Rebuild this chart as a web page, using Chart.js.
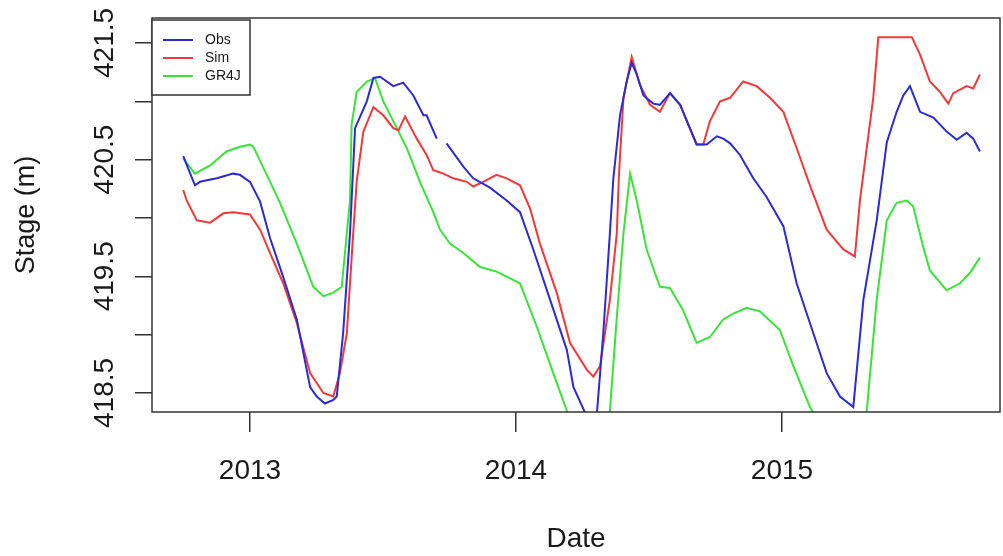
<!DOCTYPE html>
<html>
<head>
<meta charset="utf-8">
<script src="https://cdn.jsdelivr.net/npm/chart.js@4/dist/chart.umd.min.js"></script>
<style>
  body { margin: 0; background: #fff; }
  #grafica { display: block; }
</style>
</head>
<body>
<canvas id="grafica" width="1003" height="556"></canvas>
<script>
// fechas en años decimales, cota en m
const obsFecha = [2012.749, 2012.793, 2012.812, 2012.875, 2012.936, 2012.962, 2013.000, 2013.038, 2013.075, 2013.124,
  2013.176, 2013.226, 2013.251, 2013.282, 2013.313, 2013.326, 2013.350, 2013.376, 2013.395, 2013.439,
  2013.464, 2013.489, 2013.539, 2013.576, 2013.614, 2013.652, 2013.664, 2013.702, 2013.720, 2013.739,
  2013.802, 2013.839, 2013.902, 2013.965, 2014.015, 2014.065, 2014.128, 2014.191, 2014.216, 2014.266,
  2014.303, 2014.328, 2014.353, 2014.366, 2014.391, 2014.416, 2014.435, 2014.454, 2014.479, 2014.516,
  2014.541, 2014.579, 2014.617, 2014.679, 2014.717, 2014.755, 2014.779, 2014.805, 2014.842, 2014.892,
  2014.942, 2015.005, 2015.055, 2015.118, 2015.168, 2015.218, 2015.268, 2015.306, 2015.356, 2015.394,
  2015.431, 2015.456, 2015.481, 2015.519, 2015.569, 2015.619, 2015.657, 2015.694, 2015.719, 2015.744];
const obsCota = [420.53, 420.28, 420.31, 420.34, 420.38, 420.37, 420.31, 420.14, 419.83, 419.50,
  419.13, 418.55, 418.47, 418.41, 418.44, 418.47, 419.01, 419.87, 420.77, 421.00,
  421.20, 421.21, 421.13, 421.16, 421.05, 420.88, 420.88, 420.68, null, 420.64,
  420.44, 420.34, 420.26, 420.15, 420.05, 419.73, 419.30, 418.87, 418.55, 418.30,
  418.29, 419.01, 419.87, 420.34, 420.88, 421.17, 421.33, 421.23, 421.05, 420.98,
  420.97, 421.07, 420.97, 420.63, 420.63, 420.70, 420.68, 420.64, 420.54, 420.34,
  420.18, 419.93, 419.44, 419.01, 418.67, 418.47, 418.38, 419.30, 419.98, 420.65,
  420.91, 421.05, 421.13, 420.91, 420.86, 420.74, 420.67, 420.73, 420.68, 420.57];

const simFecha = [2012.749, 2012.762, 2012.800, 2012.850, 2012.900, 2012.937, 2013.000, 2013.038, 2013.075, 2013.125,
  2013.176, 2013.226, 2013.276, 2013.313, 2013.338, 2013.364, 2013.388, 2013.401, 2013.426, 2013.464,
  2013.501, 2013.539, 2013.558, 2013.583, 2013.627, 2013.664, 2013.689, 2013.727, 2013.764, 2013.815,
  2013.839, 2013.877, 2013.927, 2013.965, 2014.015, 2014.053, 2014.090, 2014.153, 2014.203, 2014.266,
  2014.291, 2014.316, 2014.353, 2014.379, 2014.387, 2014.404, 2014.435, 2014.466, 2014.504, 2014.541,
  2014.579, 2014.617, 2014.679, 2014.704, 2014.729, 2014.767, 2014.805, 2014.854, 2014.905, 2014.955,
  2015.005, 2015.055, 2015.105, 2015.168, 2015.231, 2015.274, 2015.293, 2015.343, 2015.362, 2015.488,
  2015.519, 2015.556, 2015.594, 2015.625, 2015.644, 2015.694, 2015.719, 2015.744];
const simCota = [420.24, 420.15, 419.98, 419.96, 420.04, 420.05, 420.03, 419.90, 419.70, 419.44,
  419.10, 418.67, 418.50, 418.47, 418.67, 419.01, 419.87, 420.31, 420.74, 420.95,
  420.88, 420.77, 420.75, 420.87, 420.68, 420.54, 420.41, 420.38, 420.34, 420.31,
  420.27, 420.31, 420.37, 420.34, 420.28, 420.08, 419.78, 419.36, 418.93, 418.70,
  418.64, 418.73, 419.30, 419.87, 420.37, 421.03, 421.38, 421.14, 420.97, 420.91,
  421.07, 420.97, 420.63, 420.63, 420.83, 421.00, 421.03, 421.17, 421.13, 421.03,
  420.91, 420.60, 420.28, 419.90, 419.73, 419.67, 420.15, 421.03, 421.55, 421.55,
  421.40, 421.17, 421.08, 420.98, 421.07, 421.13, 421.11, 421.23];

const gr4jFecha = [2012.749, 2012.793, 2012.850, 2012.912, 2012.962, 2013.000, 2013.013, 2013.063, 2013.113, 2013.176,
  2013.238, 2013.276, 2013.313, 2013.345, 2013.364, 2013.376, 2013.382, 2013.401, 2013.439, 2013.470,
  2013.501, 2013.552, 2013.589, 2013.639, 2013.689, 2013.714, 2013.752, 2013.802, 2013.865, 2013.927,
  2014.015, 2014.078, 2014.140, 2014.191, 2014.222, 2014.270, 2014.320, 2014.353, 2014.379, 2014.404,
  2014.429, 2014.454, 2014.491, 2014.541, 2014.579, 2014.628, 2014.679, 2014.729, 2014.779, 2014.817,
  2014.867, 2014.917, 2014.992, 2015.043, 2015.105, 2015.124, 2015.220, 2015.300, 2015.318, 2015.356,
  2015.394, 2015.431, 2015.469, 2015.493, 2015.531, 2015.556, 2015.619, 2015.669, 2015.707, 2015.744];
const gr4jCota = [420.51, 420.38, 420.45, 420.57, 420.61, 420.63, 420.61, 420.37, 420.13, 419.78,
  419.41, 419.33, 419.36, 419.41, 419.87, 420.15, 420.80, 421.08, 421.17, 421.20,
  421.00, 420.77, 420.60, 420.31, 420.05, 419.90, 419.78, 419.70, 419.58, 419.54,
  419.44, 419.07, 418.67, 418.35, 418.05, 417.80, 418.00, 418.35, 419.15, 419.87,
  420.38, 420.15, 419.73, 419.41, 419.40, 419.21, 418.93, 418.98, 419.13, 419.18,
  419.23, 419.20, 419.04, 418.73, 418.38, 418.31, 417.70, 418.10, 418.33, 419.30,
  419.98, 420.13, 420.15, 420.10, 419.75, 419.55, 419.38, 419.44, 419.53, 419.66];

const anios = [2013, 2014, 2015];
const yTicks = [418.5, 419, 419.5, 420, 420.5, 421, 421.5];
const yEtiquetas = ['418.5', '', '419.5', '', '420.5', '', '421.5'];

const fuente = '"Liberation Sans", Arial, sans-serif';

function puntos(fechas, cotas) {
    return fechas.map((f, i) => ({ x: f, y: cotas[i] }));
}

// etiquetas del eje Y giradas (estilo R)
const etiquetasY = {
    id: 'etiquetasY',
    afterDraw(chart) {
        const ctx = chart.ctx;
        const y = chart.scales.y;
        ctx.save();
        ctx.font = '28px ' + fuente;
        ctx.fillStyle = '#1a1a1a';
        ctx.textAlign = 'center';
        ctx.textBaseline = 'middle';
        y.ticks.forEach(t => {
            const txt = yEtiquetas[yTicks.indexOf(t.value)];
            if (!txt) return;
            ctx.save();
            ctx.translate(105, y.getPixelForValue(t.value));
            ctx.rotate(-Math.PI / 2);
            ctx.fillText(txt, 0, 0);
            ctx.restore();
        });
        ctx.restore();
    }
};

// marco + leyenda dentro del area
const marcoLeyenda = {
    id: 'marcoLeyenda',
    afterDraw(chart) {
        const ctx = chart.ctx;
        const a = chart.chartArea;
        ctx.save();
        ctx.strokeStyle = '#333';
        ctx.lineWidth = 1.5;
        ctx.strokeRect(a.left, a.top, a.right - a.left, a.bottom - a.top);

        const lx = a.left, ly = a.top + 2;
        ctx.fillStyle = '#fff';
        ctx.fillRect(lx, ly, 98, 75);
        ctx.strokeRect(lx, ly, 98, 75);
        ctx.font = '14px ' + fuente;
        ctx.textBaseline = 'middle';
        chart.data.datasets.forEach((ds, i) => {
            const yy = ly + 20 + i * 18;
            ctx.strokeStyle = ds.borderColor;
            ctx.lineWidth = 2;
            ctx.beginPath();
            ctx.moveTo(lx + 11, yy);
            ctx.lineTo(lx + 41, yy);
            ctx.stroke();
            ctx.fillStyle = '#1a1a1a';
            ctx.fillText(ds.label, lx + 53, yy);
        });
        ctx.restore();
    }
};

const ctx = document.getElementById('grafica').getContext('2d');

new Chart(ctx, {
    type: 'line',
    data: {
        datasets: [
            { label: 'Obs', data: puntos(obsFecha, obsCota), borderColor: '#2b2bd6' },
            { label: 'Sim', data: puntos(simFecha, simCota), borderColor: '#ee3a3a' },
            { label: 'GR4J', data: puntos(gr4jFecha, gr4jCota), borderColor: '#3ae23a' }
        ]
    },
    options: {
        responsive: false,
        animation: false,
        clip: 0,
        elements: {
            point: { radius: 0 },
            line: { borderWidth: 2, tension: 0 }
        },
        layout: { padding: { top: 18, right: 3, left: 10, bottom: 0 } },
        plugins: {
            legend: { display: false },
            tooltip: { enabled: false }
        },
        scales: {
            x: {
                type: 'linear',
                min: 2012.6316,
                max: 2015.8195,
                afterBuildTicks: s => { s.ticks = anios.map(v => ({ value: v })); },
                afterFit: s => { s.height = 144; },
                grid: { drawOnChartArea: false, drawTicks: true, tickLength: 20, color: '#333', lineWidth: 1.5 },
                border: { display: false },
                ticks: {
                    padding: 22,
                    color: '#1a1a1a',
                    font: { family: fuente, size: 28 },
                    callback: v => String(v)
                },
                title: { display: true, text: 'Date', color: '#1a1a1a', font: { family: fuente, size: 28 }, padding: 0 }
            },
            y: {
                min: 418.337,
                max: 421.714,
                afterBuildTicks: s => { s.ticks = yTicks.map(v => ({ value: v })); },
                afterFit: s => { s.width = 142; },
                grid: { drawOnChartArea: false, drawTicks: true, tickLength: 17, color: '#333', lineWidth: 1.5 },
                border: { display: false },
                ticks: { display: false },
                title: { display: true, text: 'Stage (m)', color: '#1a1a1a', font: { family: fuente, size: 27 }, padding: 0 }
            }
        }
    },
    plugins: [etiquetasY, marcoLeyenda]
});
</script>
</body>
</html>
